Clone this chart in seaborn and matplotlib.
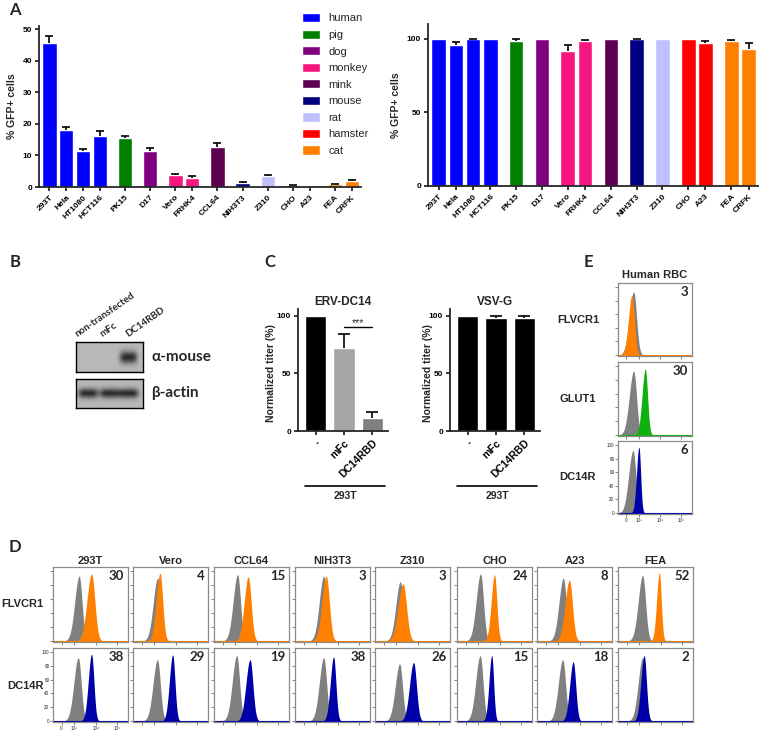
import numpy as np
import pandas as pd
import matplotlib
matplotlib.use("Agg")
import matplotlib.pyplot as plt
from matplotlib.lines import Line2D
import seaborn as sns

W, H = 760, 733

# ---------------- panel A data ----------------
cell_lines = ['293T', 'Hela', 'HT1080', 'HCT116', 'PK15', 'D17', 'Vero', 'FRHK4',
              'CCL64', 'NIH3T3', 'Z310', 'CHO', 'A23', 'FEA', 'CRFK']
species = ['human', 'human', 'human', 'human', 'pig', 'dog', 'monkey', 'monkey',
           'mink', 'mouse', 'rat', 'hamster', 'hamster', 'cat', 'cat']
gfp_erv = [45.5, 18.1, 11.3, 16.3, 15.6, 11.5, 3.7, 2.8, 12.6, 1.3, 3.5, 0.5, 0.0, 0.9, 1.9]
gfp_erv_err = [2.3, 1.0, 0.7, 1.3, 0.7, 0.7, 0.3, 0.6, 1.3, 0.2, 0.4, 0.2, 0.0, 0.2, 0.3]
gfp_vsvg = [100, 95.8, 99.8, 100, 98.3, 100, 91.8, 98.6, 100, 99.8, 100, 100, 97.0, 98.4, 92.7]
gfp_vsvg_err = [0, 1.8, 0.3, 0, 1.5, 0, 3.9, 0.5, 0, 0.3, 0, 0, 1.2, 0.8, 4.5]

species_order = ['human', 'pig', 'dog', 'monkey', 'mink', 'mouse', 'rat', 'hamster', 'cat']
species_colors = ['#0000FF', '#007F00', '#800080', '#F7167F', '#5E0050',
                  '#000080', '#C0C0FF', '#FF0000', '#FF8000']

# ---------------- panel B data ----------------
blot_lanes = ['non-transfected', 'mFc', 'DC14RBD']
alpha_mouse_bands = [0.0, 0.0, 1.0]
beta_actin_bands = [1.0, 1.0, 1.0]

# ---------------- panel C data ----------------
c_groups = ['-', 'mFc', 'DC14RBD']
titer_erv = [100, 72, 11.3]
titer_erv_err = [0, 12, 5.5]
titer_vsvg = [100, 98.5, 98.5]
titer_vsvg_err = [0, 1.5, 1.5]

# ---------------- panel D data (log10 fluorescence peaks) ----------------
d_cells = ['293T', 'Vero', 'CCL64', 'NIH3T3', 'Z310', 'CHO', 'A23', 'FEA']
flvcr1_mfi = ['30', '4', '15', '3', '3', '24', '8', '52']
flvcr1_ctrl_peak = [3.22, 3.15, 3.10, 3.34, 3.18, 3.10, 3.23, 3.15]
flvcr1_ctrl_height = [93, 90, 95, 93, 85, 96, 90, 94]
flvcr1_peak = [3.80, 3.26, 3.60, 3.46, 3.31, 3.75, 3.51, 3.93]
flvcr1_height = [96, 97, 92, 93, 82, 95, 87, 98]
flvcr1_width = [0.17, 0.14, 0.15, 0.16, 0.18, 0.12, 0.16, 0.10]
dc14r_mfi = ['38', '29', '19', '38', '26', '15', '18', '2']
dc14r_ctrl_peak = [3.18, 3.14, 3.06, 3.34, 3.15, 3.08, 3.20, 3.15]
dc14r_ctrl_height = [92, 89, 95, 92, 83, 95, 89, 92]
dc14r_peak = [3.80, 3.85, 3.68, 3.80, 3.80, 3.62, 3.69, 3.22]
dc14r_height = [97, 96, 89, 93, 85, 95, 86, 95]
dc14r_width = [0.12, 0.12, 0.15, 0.12, 0.15, 0.10, 0.13, 0.12]
ctrl_width = 0.16

# ---------------- panel E data ----------------
rbc_markers = ['FLVCR1', 'GLUT1', 'DC14R']
rbc_mfi = ['3', '30', '6']
rbc_ctrl_peak = [2.74, 2.74, 2.71]
rbc_ctrl_height = [93, 93, 92]
rbc_peak = [2.66, 3.29, 2.99]
rbc_height = [88, 96, 97]
rbc_width = [0.13, 0.12, 0.09]

ORANGE, BLUE, GREEN, GRAY = '#FF8000', '#0000A8', '#10B010', '#808080'

sns.set_theme(style="ticks")
plt.rcParams['font.family'] = ['Liberation Sans', 'DejaVu Sans']
plt.rcParams['axes.linewidth'] = 1.3

fig = plt.figure(figsize=(W / 100, H / 100), dpi=100)


def add_ax(x0, y0, x1, y1):
    return fig.add_axes([x0 / W, 1 - y1 / H, (x1 - x0) / W, (y1 - y0) / H])


def ftext(x, y, s, **kw):
    fig.text(x / W, 1 - y / H, s, **kw)


def prism_axes(ax):
    sns.despine(ax=ax)
    ax.tick_params(axis='both', length=3, width=1.1, labelsize=6, pad=2, colors='black')
    for lab in ax.get_yticklabels():
        lab.set_fontweight('bold')


def up_errorbars(ax, x, y, err, capsize=3):
    x, y, err = np.asarray(x), np.asarray(y), np.asarray(err)
    keep = err > 0
    _, caps, _ = ax.errorbar(x[keep], y[keep], yerr=[np.zeros(keep.sum()), err[keep]],
                             fmt='none', ecolor='black', elinewidth=1.2,
                             capsize=capsize, capthick=1.2)
    caps[0].set_visible(False)


# ---------------- panel A ----------------
df = pd.DataFrame({'cell': cell_lines, 'species': species,
                   'erv': gfp_erv, 'erv_err': gfp_erv_err,
                   'vsvg': gfp_vsvg, 'vsvg_err': gfp_vsvg_err})
group_idx = df['species'].ne(df['species'].shift()).cumsum() - 1
df['pos'] = np.arange(len(df)) + 0.5 * group_idx

for col, rect, ylim, yticks, legend in [
        ('erv', (39, 26, 361, 187), 51, [0, 10, 20, 30, 40, 50], True),
        ('vsvg', (428, 24, 758, 186), 110, [0, 50, 100], False)]:
    ax = add_ax(*rect)
    sns.barplot(data=df, x='pos', y=col, hue='species', hue_order=species_order,
                palette=species_colors, native_scale=True, dodge=False, width=0.85,
                saturation=1, legend=legend, ax=ax)
    up_errorbars(ax, df['pos'], df[col], df[col + '_err'])
    ax.set_xlim(-0.62, df['pos'].iloc[-1] + 0.55)
    ax.set_ylim(0, ylim)
    ax.set_yticks(yticks)
    ax.set_xticks(df['pos'])
    ax.set_xticklabels(cell_lines, rotation=45, ha='right', rotation_mode='anchor',
                       fontsize=5.8, fontweight='bold')
    ax.set_xlabel('')
    ax.set_ylabel('% GFP+ cells', fontsize=7.5, fontweight='bold', labelpad=4)
    prism_axes(ax)
    if legend:
        sns.move_legend(ax, 'upper left', bbox_to_anchor=(302 / W, 1 - 13 / H),
                        bbox_transform=fig.transFigure, frameon=False, title=None,
                        fontsize=8, handlelength=1.6, handleheight=0.9,
                        handletextpad=0.8, labelspacing=0.55,
                        borderpad=0, borderaxespad=0)

# ---------------- panel B ----------------
def blot_image(bands, band_w, band_h):
    ny, nx = 60, 134
    yy, xx = np.mgrid[0:ny, 0:nx]
    img = np.full((ny, nx), 0.72)
    for lane, strength in zip([0.18, 0.5, 0.78], bands):
        img -= 0.55 * strength * np.exp(-((xx / nx - lane) / band_w) ** 4
                                        - ((yy / ny - 0.5) / band_h) ** 2)
    return img


for (y0, y1), bands, bw, bh, label in [((342, 372), alpha_mouse_bands, 0.13, 0.2, 'α-mouse'),
                                        ((379, 408), beta_actin_bands, 0.15, 0.16, 'β-actin')]:
    ax = add_ax(76, y0, 143, y1)
    ax.imshow(blot_image(bands, bw, bh), cmap='gray', vmin=0, vmax=1, aspect='auto')
    ax.set_xticks([])
    ax.set_yticks([])
    for s in ax.spines.values():
        s.set_color('black')
        s.set_linewidth(1)
    ftext(151, (y0 + y1) / 2, label, fontsize=11, fontweight='bold',
          va='center', family=['Lato', 'DejaVu Sans'])

for x, lab in zip([79, 104, 129], blot_lanes):
    ftext(x, 339, lab, rotation=35, ha='left', va='bottom', rotation_mode='anchor',
          fontsize=7, fontweight='bold', family=['Lato', 'DejaVu Sans'])

# ---------------- panel C ----------------
for vals, errs, title, rect, colors, ylab_x in [
        (titer_erv, titer_erv_err, 'ERV-DC14', (298, 309, 388, 431),
         ['#000000', '#A5A5A8', '#808080'], 271),
        (titer_vsvg, titer_vsvg_err, 'VSV-G', (450, 309, 540, 431),
         ['#000000', '#000000', '#000000'], 428)]:
    ax = add_ax(*rect)
    cdf = pd.DataFrame({'group': c_groups, 'titer': vals})
    sns.barplot(data=cdf, x='group', y='titer', hue='group', palette=colors,
                saturation=1, width=0.75, legend=False, ax=ax)
    up_errorbars(ax, np.arange(3), vals, errs, capsize=4)
    ax.set_xlim(-0.62, 2.55)
    ax.set_ylim(0, 106)
    ax.set_yticks([0, 50, 100])
    ax.set_xticks(range(3))
    ax.set_xticklabels(c_groups, rotation=45, ha='right', rotation_mode='anchor',
                       fontsize=7.5, fontweight='bold')
    ax.set_xlabel('')
    ax.set_ylabel('')
    ax.set_title(title, fontsize=8.5, fontweight='bold', pad=3)
    prism_axes(ax)
    ax.tick_params(axis='x', labelsize=7.5)
    ftext(ylab_x, 373, 'Normalized titer (%)', rotation=90, ha='center', va='center',
          fontsize=7.5, fontweight='bold')
    xl = rect[0] + 7
    fig.add_artist(Line2D([xl / W, (xl + 80) / W], [1 - 486 / H] * 2, color='black', lw=1.2))
    ftext(xl + 40, 496, '293T', ha='center', va='center', fontsize=7.5, fontweight='bold')
    if title == 'ERV-DC14':
        ax.plot([1, 2], [90, 90], color='black', lw=1)
        ax.text(1.5, 89, '***', ha='center', va='bottom', fontsize=7.5)


# ---------------- flow histograms (D and E) ----------------
u = np.linspace(2.0, 5.5, 500)


def peak(center, height, width, skew=1.0):
    s = np.where(u < center, width * skew, width)
    return height * np.exp(-0.5 * ((u - center) / s) ** 2)


def flow_panel(ax, c_peak, c_height, s_peak, s_height, s_width, color, mfi, labels=False):
    ax.fill_between(u, peak(c_peak, c_height, ctrl_width * 0.85, 1.5), color=GRAY, lw=0)
    ax.fill_between(u, peak(s_peak, s_height, s_width * 0.9, 1.4), color=color, lw=0)
    ax.plot(u, np.full_like(u, 0.4), color=color, lw=0.8)
    ax.set_xlim(2.0, 5.5)
    ax.set_ylim(-1.5, 106)
    ax.set_xticks([2.4, 3, 4, 5])
    ax.set_yticks([0, 20, 40, 60, 80, 100])
    ax.tick_params(length=2, width=0.5, color='#555555', labelsize=3.3, pad=0.6)
    if labels:
        ax.set_xticklabels(['0', '10³', '10⁴', '10⁵'])
    else:
        ax.set_xticklabels([])
        ax.set_yticklabels([])
    for s in ax.spines.values():
        s.set_color('#8A8A8A')
        s.set_linewidth(0.9)
    ax.text(0.95, 0.96, mfi, transform=ax.transAxes, ha='right', va='top',
            fontsize=9.5, fontweight='bold', family=['Lato', 'DejaVu Sans'])


d_x0 = [53, 133, 214, 295, 375, 457, 537, 618]
for i, cell in enumerate(d_cells):
    ax1 = add_ax(d_x0[i], 567, d_x0[i] + 75, 642)
    flow_panel(ax1, flvcr1_ctrl_peak[i], flvcr1_ctrl_height[i], flvcr1_peak[i],
               flvcr1_height[i], flvcr1_width[i], ORANGE, flvcr1_mfi[i])
    ax1.set_title(cell, fontsize=8, fontweight='bold', pad=2)
    ax2 = add_ax(d_x0[i], 648, d_x0[i] + 75, 722)
    flow_panel(ax2, dc14r_ctrl_peak[i], dc14r_ctrl_height[i], dc14r_peak[i],
               dc14r_height[i], dc14r_width[i], BLUE, dc14r_mfi[i], labels=(i == 0))

ftext(22, 604, 'FLVCR1', ha='center', va='center', fontsize=8, fontweight='bold')
ftext(25, 686, 'DC14R', ha='center', va='center', fontsize=8, fontweight='bold')

e_rows = [(283, 356), (362, 436), (441, 514)]
for i, marker in enumerate(rbc_markers):
    ax = add_ax(618, e_rows[i][0], 692, e_rows[i][1])
    flow_panel(ax, rbc_ctrl_peak[i], rbc_ctrl_height[i], rbc_peak[i], rbc_height[i],
               rbc_width[i], [ORANGE, GREEN, BLUE][i], rbc_mfi[i], labels=(i == 2))
    ftext(578, sum(e_rows[i]) / 2, marker, ha='center', va='center', fontsize=8,
          fontweight='bold')
ftext(655, 275, 'Human RBC', ha='center', va='center', fontsize=8, fontweight='bold')

# ---------------- panel letters ----------------
for x, y, letter in [(15, 10, 'A'), (15, 262, 'B'), (270, 262, 'C'),
                     (588, 262, 'E'), (15, 547, 'D')]:
    ftext(x, y, letter, ha='center', va='center', fontsize=12, fontweight='bold',
          family=['Lato', 'DejaVu Sans'])

fig.savefig('out.png', dpi=100)
